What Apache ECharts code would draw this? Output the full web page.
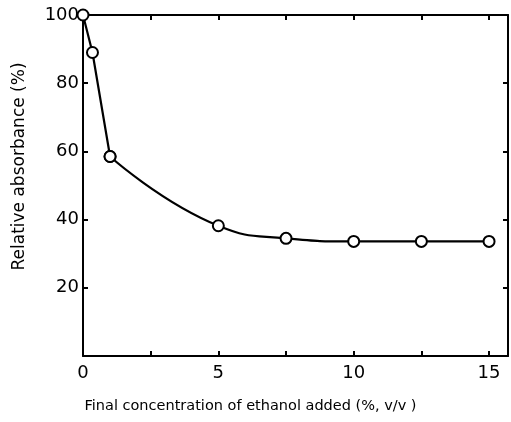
<!DOCTYPE html>
<html><head><meta charset="utf-8">
<script src="https://cdn.jsdelivr.net/npm/echarts@6/dist/echarts.min.js"></script>
<style>html,body{margin:0;padding:0;background:#fff}#c{width:511px;height:422px}</style>
</head><body><div id="c"></div>
<script>
const ethanol = [0, 0.35, 1.0, 5, 7.5, 10, 12.5, 15];
const absorbance = [100, 89, 58.5, 38.2, 34.5, 33.6, 33.6, 33.6];
const xTickLabels = [0, 5, 10, 15];
const yTickLabels = [20, 40, 60, 80, 100];

const pts = ethanol.map((x, i) => [x, absorbance[i]]);
const chart = echarts.init(document.getElementById('c'));
const font = 'DejaVu Sans';
const axisLine = {show: true, onZero: false, lineStyle: {color: '#000', width: 2}};
const tick = {inside: true, length: 5, lineStyle: {color: '#000', width: 2}};
const marker = {
  symbol: 'circle', symbolSize: 11,
  itemStyle: {color: '#fff', borderColor: '#000', borderWidth: 2},
  lineStyle: {color: '#000', width: 2.2},
  z: 5
};
chart.setOption({
  animation: false,
  grid: {left: 83, top: 15, right: 3, bottom: 66},
  xAxis: [{
    type: 'value', min: 0, max: 15.7, interval: 2.5,
    axisLine: axisLine, axisTick: tick,
    splitLine: {show: false},
    axisLabel: {
      color: '#000', fontFamily: font, fontSize: 18, margin: 8,
      showMaxLabel: false,
      formatter: v => xTickLabels.includes(v) ? String(v) : ''
    },
    name: 'Final concentration of ethanol added (%, v/v )',
    nameLocation: 'middle', nameGap: 43,
    nameTextStyle: {color: '#000', fontFamily: font, fontSize: 14.5, padding: [0, 90, 0, 0]}
  }, {
    type: 'value', position: 'top', min: 0, max: 15.7, interval: 2.5,
    axisLine: axisLine, axisTick: tick,
    axisLabel: {show: false}, splitLine: {show: false}
  }],
  yAxis: [{
    type: 'value', min: 0, max: 100, interval: 20,
    axisLine: axisLine, axisTick: tick,
    splitLine: {show: false},
    axisLabel: {
      color: '#000', fontFamily: font, fontSize: 18, margin: 4,
      formatter: v => yTickLabels.includes(v) ? String(v) : ''
    },
    name: 'Relative absorbance (%)',
    nameLocation: 'middle', nameGap: 55, nameRotate: 90,
    nameTextStyle: {color: '#000', fontFamily: font, fontSize: 17, padding: [0, 0, 0, 38]}
  }, {
    type: 'value', position: 'right', min: 0, max: 100, interval: 20,
    axisLine: axisLine, axisTick: tick,
    axisLabel: {show: false}, splitLine: {show: false}
  }],
  series: [
    Object.assign({type: 'line', data: pts.slice(0, 3), smooth: false}, marker),
    Object.assign({type: 'line', data: pts.slice(2), smooth: 0.5}, marker)
  ]
});
</script></body></html>
